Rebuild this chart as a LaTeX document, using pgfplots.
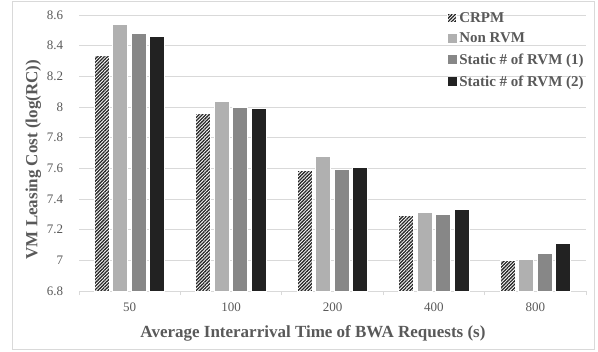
\documentclass[border=0pt]{standalone}
\usepackage{pgfplots}
\pgfplotsset{compat=1.18}
\usepackage{fontspec}
\setmainfont{Liberation Serif}
\usetikzlibrary{patterns.meta}
\definecolor{txt}{HTML}{595959}
\definecolor{grid}{HTML}{D9D9D9}
\definecolor{c1}{HTML}{262626}
\definecolor{c2}{HTML}{B0B0B0}
\definecolor{c3}{HTML}{878787}
\definecolor{c4}{HTML}{222222}
\begin{document}
\begin{tikzpicture}[x=1bp,y=1bp]
\useasboundingbox (0,0) rectangle (598,351);
\draw[grid, line width=0.8bp] (12,2) rectangle (594,350);
\begin{axis}[
  at={(79bp,60bp)}, anchor=south west,
  scale only axis, width=507bp, height=276bp,
  ybar=3.5bp, bar width=15bp,
  xmin=-0.5, xmax=4.5, ymin=6.8, ymax=8.6,
  ytick={6.8,7,7.2,7.4,7.6,7.8,8,8.2,8.4,8.6},
  yticklabels={6.8,7,7.2,7.4,7.6,7.8,8,8.2,8.4,8.6},
  xtick={0,1,2,3,4}, xticklabels={50,100,200,400,800},
  minor xtick={-0.5,0.5,1.5,2.5,3.5,4.5},
  major x tick style={draw=none},
  minor x tick style={draw=grid, line width=0.8bp},
  minor tick length=4bp,
  tick align=outside,
  y tick style={draw=none},
  axis x line*=bottom, axis y line*=left,
  x axis line style={draw=grid, line width=0.8bp, -},
  y axis line style={draw=none},
  ymajorgrids, grid style={draw=grid, line width=0.8bp},
  tick label style={font=\fontsize{13bp}{15bp}\selectfont, text=txt},
  /pgf/number format/assume math mode=true,
  xticklabel style={yshift=-4bp},
  yticklabel style={xshift=-8bp},
  xlabel={Average Interarrival Time of BWA Requests (s)},
  ylabel={VM Leasing Cost (log(RC))},
  label style={font=\bfseries\fontsize{17bp}{20bp}\selectfont, text=txt},
  xlabel style={at={(axis description cs:0.4615,0)}, anchor=center, yshift=-42bp},
  ylabel style={at={(axis description cs:-0.09,0.476)}, anchor=center},
  legend style={at={(rel axis cs:0.726,1.018)}, anchor=north west, draw=none, fill=none,
    font=\bfseries\fontsize{15bp}{18bp}\selectfont, text=txt,
    row sep=5.5bp, inner sep=0pt},
  legend cell align=left,
  legend image code/.code={\path[#1, draw=none] (0bp,-4.5bp) rectangle (9bp,4.5bp);},
]
\addplot[draw=white, line width=1bp, fill=white, postaction={pattern={Lines[angle=45, distance=2.4bp, line width=1.3bp]}, pattern color=c1}] coordinates {(0,8.337) (1,7.956) (2,7.585) (3,7.295) (4,6.997)};
\addplot[draw=white, line width=1bp, fill=c2] coordinates {(0,8.535) (1,8.035) (2,7.675) (3,7.313) (4,7.008)};
\addplot[draw=white, line width=1bp, fill=c3] coordinates {(0,8.480) (1,8.000) (2,7.590) (3,7.297) (4,7.043)};
\addplot[draw=white, line width=1bp, fill=c4] coordinates {(0,8.458) (1,7.989) (2,7.605) (3,7.332) (4,7.113)};
\legend{CRPM, Non RVM, Static \# of RVM (1), Static \# of RVM (2)}
\end{axis}
\end{tikzpicture}
\end{document}
